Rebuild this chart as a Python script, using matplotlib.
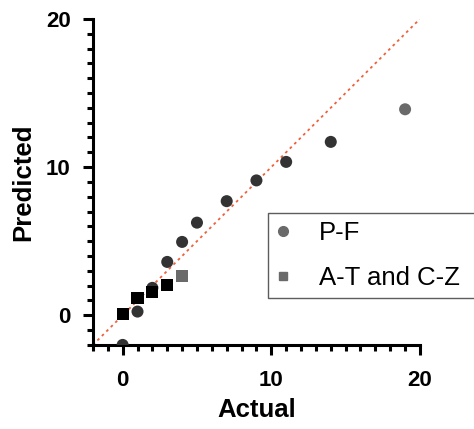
import matplotlib.pyplot as plt
from matplotlib.ticker import MultipleLocator
from matplotlib.lines import Line2D

plt.rcParams['font.family'] = ['Liberation Sans', 'DejaVu Sans']

# P-F series (circles)
pf_actual = [0, 1, 2, 3, 4, 5, 7, 9, 11, 14, 19]
pf_predicted = [-2.0, 0.25, 1.85, 3.6, 4.95, 6.25, 7.7, 9.1, 10.35, 11.7, 13.9]

# A-T and C-Z series (squares)
at_actual = [0, 1, 2, 3, 4]
at_predicted = [0.1, 1.15, 1.6, 2.05, 2.65]

identity = [-2, 20]

pf_colors = ['#333333'] * 10 + ['#6a6a6a']
at_colors = ['#000000'] * 4 + ['#6a6a6a']

fig = plt.figure(figsize=(4.74, 4.29), dpi=100)
ax = fig.add_axes([0.196, 0.196, 0.69, 0.76])

ax.plot(identity, identity, linestyle=(0, (1.5, 2)), color='#f0603a', lw=1.3, zorder=1)
ax.scatter(pf_actual, pf_predicted, marker='o', s=75, c=pf_colors, edgecolors='none', zorder=3)
ax.scatter(at_actual, at_predicted, marker='s', s=75, c=at_colors, edgecolors='none', zorder=4)

ax.set_xlim(-2, 20)
ax.set_ylim(-2, 20)
ax.xaxis.set_major_locator(MultipleLocator(10))
ax.yaxis.set_major_locator(MultipleLocator(10))
ax.xaxis.set_minor_locator(MultipleLocator(1))
ax.yaxis.set_minor_locator(MultipleLocator(1))

for side in ['top', 'right']:
    ax.spines[side].set_visible(False)
for side in ['left', 'bottom']:
    ax.spines[side].set_linewidth(2.2)

ax.tick_params(which='major', length=7, width=2.2, labelsize=16)
ax.tick_params(which='minor', length=4, width=2.2)
ax.tick_params(axis='x', which='major', pad=11)
ax.tick_params(axis='y', which='major', pad=9)
for lab in ax.get_xticklabels() + ax.get_yticklabels():
    lab.set_fontweight('bold')

ax.set_xlabel('Actual', fontsize=18.5, fontweight='bold', labelpad=5)
ax.set_ylabel('Predicted', fontsize=18.5, fontweight='bold', labelpad=8)

handles = [
    Line2D([], [], marker='o', linestyle='none', color='#6a6a6a', markersize=7),
    Line2D([], [], marker='s', linestyle='none', color='#6a6a6a', markersize=6),
]
leg = ax.legend(handles, ['P-F', 'A-T and C-Z'], loc='upper left',
                bbox_to_anchor=(0.535, 0.145, 0.66, 0.26), mode='expand',
                borderaxespad=0, fontsize=18.5,
                frameon=True, fancybox=False, handletextpad=1.1, borderpad=0.3,
                labelspacing=0.85, handlelength=0.6)
leg.get_frame().set_edgecolor('#333333')
leg.get_frame().set_linewidth(1.0)

fig.savefig('out.png', dpi=100)
